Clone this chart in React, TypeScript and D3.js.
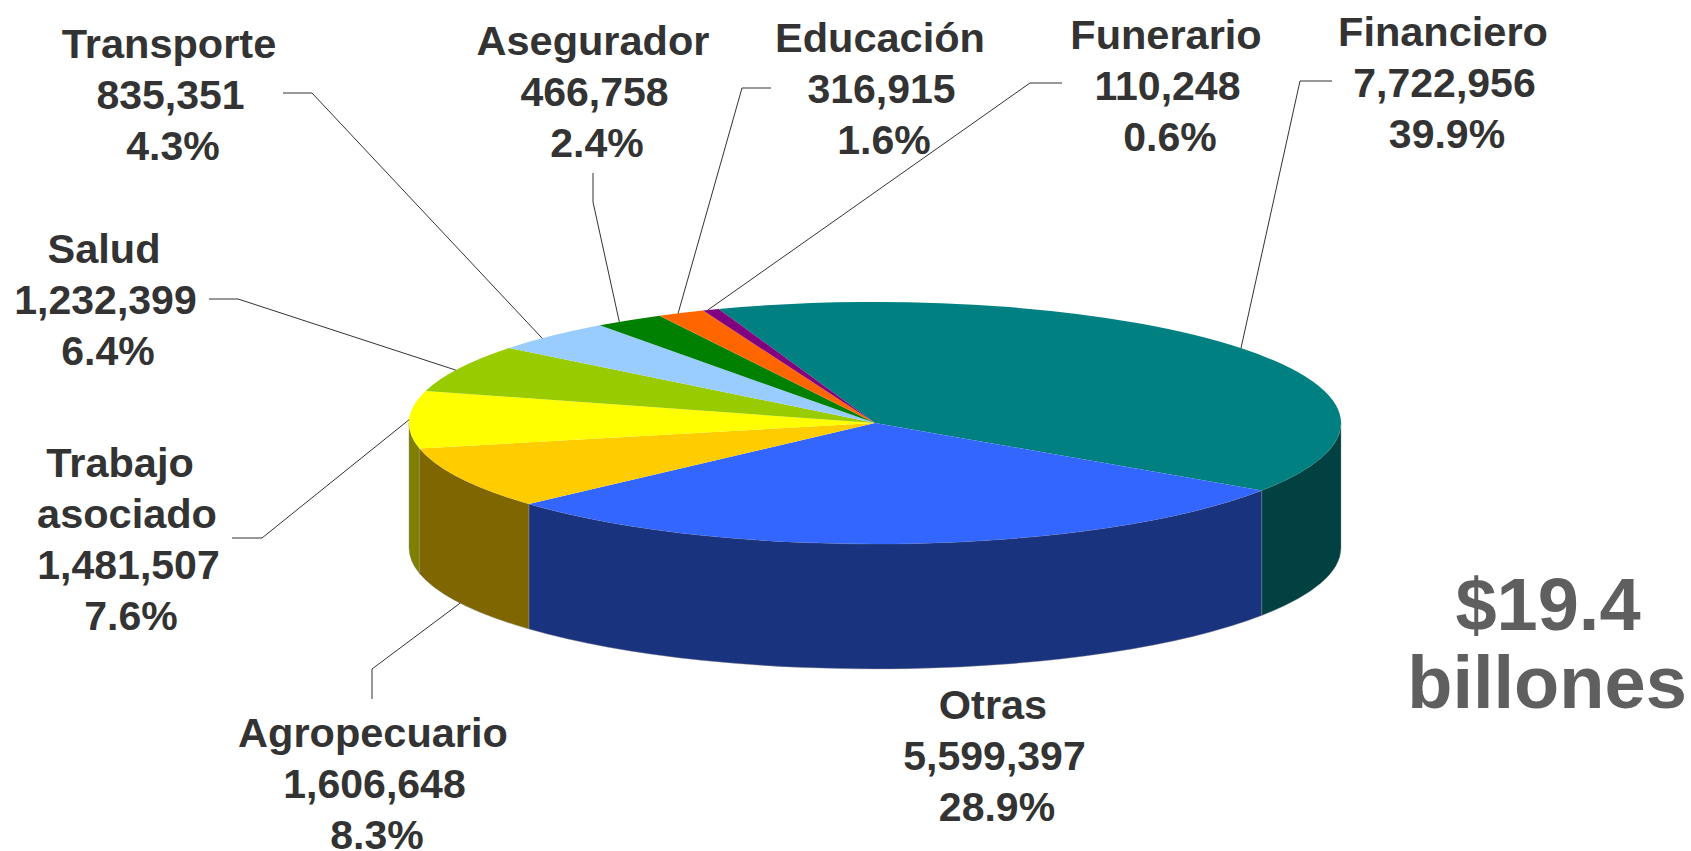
import * as d3 from "d3";

const categories = ["Financiero", "Otras", "Agropecuario", "Trabajo asociado", "Salud", "Transporte", "Asegurador", "Educación", "Funerario"];
const values = [7722956, 5599397, 1606648, 1481507, 1232399, 835351, 466758, 316915, 110248];
const percents = ["39.9%", "28.9%", "8.3%", "7.6%", "6.4%", "4.3%", "2.4%", "1.6%", "0.6%"];
const topColors = ["#008080", "#3366ff", "#ffcc00", "#ffff00", "#99cc00", "#99ccff", "#008000", "#ff6600", "#800080"];
const wallColors = ["#024141", "#1a337f", "#806600", "#808000", "#4d6600", "#4d667f", "#004000", "#803300", "#400040"];
const totalLines = ["$19.4", "billones"];

// layout, full size px
const W = 1691, H = 851;
const cx = 875, cy = 423, rx = 466, ry = 121, depth = 125;
const startAngle = (-19.6 * Math.PI) / 180;
const labelX = [1443, 993, 373, 127, 104, 169, 593, 880, 1166];
const labelY = [46, 719, 747, 477, 263, 58, 55, 52, 49];
const lineGap = 51;
// start of each leader, then its elbow; null = no leader
const leaderStart: ([number, number] | null)[] = [[1332, 81], null, [372, 699], [232, 538], [209, 299], [283, 93], [593, 173], [771, 88], [1062, 83]];
const leaderElbow: ([number, number] | null)[] = [[1300, 81], null, [372, 669], [262, 538], [238, 299], [312, 93], [593, 202], [742, 88], [1030, 83]];
// degrees, the leaders don't hit the rim exactly at the slice middle
const leaderNudge = [-0.4, 0, 0, 0, -0.9, -1.6, -1.4, -0.4, -0.4];

const fmt = d3.format(",");
const slices = d3.pie<number>().sort(null).startAngle(startAngle).endAngle(startAngle + 2 * Math.PI)(values);
const arc = d3.arc<d3.PieArcDatum<number>>().innerRadius(0).outerRadius(1000);

const px = (a: number) => cx + rx * Math.sin(a);
const py = (a: number) => cy - ry * Math.cos(a);

// side wall of a slice, only the part facing the viewer
const wallPath = (a0: number, a1: number) => {
  const s = Math.max(a0, Math.PI / 2);
  const e = Math.min(a1, (3 * Math.PI) / 2);
  if (e <= s) return "";
  const large = e - s > Math.PI ? 1 : 0;
  return `M${px(s)},${py(s)}A${rx},${ry} 0 ${large} 1 ${px(e)},${py(e)}L${px(e)},${py(e) + depth}A${rx},${ry} 0 ${large} 0 ${px(s)},${py(s) + depth}Z`;
};

const leaderPoints = (i: number) => {
  const start = leaderStart[i];
  const elbow = leaderElbow[i];
  if (!start || !elbow) return null;
  const mid = (slices[i].startAngle + slices[i].endAngle) / 2 + (leaderNudge[i] * Math.PI) / 180;
  const front = Math.cos(mid) < -0.1;
  return [start, elbow, [px(mid), py(mid) + (front ? depth : 0)] as [number, number]];
};

const line = d3.line();

export default function App() {
  return (
    <svg width={W} height={H} style={{ position: "absolute", left: 0, top: 0, background: "#fff" }} fontFamily="'Liberation Sans', Arial, sans-serif" fontWeight="bold">
      {slices.map((d, i) => {
        const path = wallPath(d.startAngle, d.endAngle);
        return path ? <path key={i} d={path} fill={wallColors[i]} stroke="#8a8a8a" strokeWidth={0.4} /> : null;
      })}
      <g transform={`translate(${cx},${cy}) scale(${rx / 1000},${ry / 1000})`}>
        {slices.map((d, i) => (
          <path key={i} d={arc(d) || ""} fill={topColors[i]} />
        ))}
      </g>
      {categories.map((_, i) => {
        const pts = leaderPoints(i);
        return pts ? <path key={i} d={line(pts) || ""} fill="none" stroke="#333" strokeWidth={1} /> : null;
      })}
      {categories.map((name, i) => {
        const names = name === "Trabajo asociado" ? ["Trabajo", "asociado"] : [name];
        return (
          <text key={i} textAnchor="middle" fill="#333333">
            {names.map((t, j) => (
              // "Trabajo" sits a bit left of the rest of its label
              <tspan key={j} x={labelX[i] - (t === "Trabajo" ? 7 : 0)} y={labelY[i] + j * lineGap} fontSize={41.5}>{t}</tspan>
            ))}
            <tspan x={labelX[i] + 1.5} y={labelY[i] + names.length * lineGap} fontSize={41}>{fmt(values[i])}</tspan>
            <tspan x={labelX[i] + 4} y={labelY[i] + (names.length + 1) * lineGap} fontSize={41}>{percents[i]}</tspan>
          </text>
        );
      })}
      <text textAnchor="middle" fontSize={74} fill="#5f5f5f">
        <tspan x={1548} y={630}>{totalLines[0]}</tspan>
        <tspan x={1547} y={708}>{totalLines[1]}</tspan>
      </text>
    </svg>
  );
}
